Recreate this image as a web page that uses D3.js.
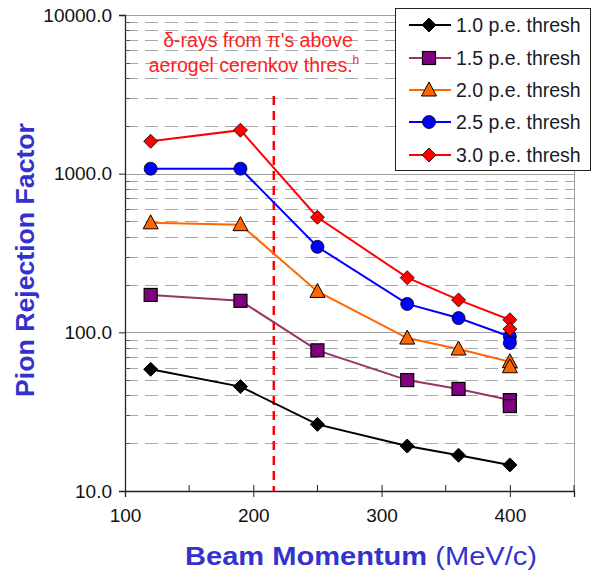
<!DOCTYPE html>
<html><head><meta charset="utf-8">
<script src="https://cdn.jsdelivr.net/npm/d3@7"></script>
<style>body{margin:0;background:#fff;} text{font-family:Arial,"Liberation Sans",sans-serif;}</style>
</head><body>
<svg id="c" width="595" height="573"></svg>
<script>
const momentum = [120, 190, 250, 320, 360, 400, 400];
const thresh10 = [58.5, 45.5, 26.3, 19.2, 16.8, 14.6];
const thresh15 = [172, 158, 77, 50, 44, 37.4, 34.3];
const thresh20 = [490, 477, 181, 92, 78.5, 65.3, 60.7];
const thresh25 = [1075, 1075, 346, 151, 123, 94, 85.7];
const thresh30 = [1600, 1880, 531, 221, 160, 120, 105];
const seriesNames = ["1.0 p.e. thresh","1.5 p.e. thresh","2.0 p.e. thresh","2.5 p.e. thresh","3.0 p.e. thresh"];
const xTicks = [100, 200, 300, 400];
const yTicks = [10, 100, 1000, 10000];
const cutoffMomentum = 216;

const series = [
 {name:seriesNames[0], vals:thresh10, line:"#000000", fill:"#000000", stroke:"#000000", shape:"diamond"},
 {name:seriesNames[1], vals:thresh15, line:"#993366", fill:"#800080", stroke:"#000000", shape:"square"},
 {name:seriesNames[2], vals:thresh20, line:"#FF6600", fill:"#FF6600", stroke:"#000000", shape:"triangle"},
 {name:seriesNames[3], vals:thresh25, line:"#0000FF", fill:"#0000FF", stroke:"#000000", shape:"circle"},
 {name:seriesNames[4], vals:thresh30, line:"#FF0000", fill:"#FF0000", stroke:"#000000", shape:"diamond2"}
];

const svg = d3.select("#c");
const L=125, R=574, T=15, B=491;
const x = d3.scaleLinear().domain([100,450]).range([L,R]);
const y = d3.scaleLog().domain([10,10000]).range([B,T]);

// gridlines
const minor=[];
for (let d=10; d<10000; d*=10) for (let k=2;k<=9;k++) minor.push(d*k);
svg.append("g").selectAll("line").data(minor).join("line")
 .attr("x1",L).attr("x2",R).attr("y1",d=>Math.round(y(d))+0.5).attr("y2",d=>Math.round(y(d))+0.5)
 .attr("stroke","#a8a8a8").attr("stroke-width",1).attr("stroke-dasharray","13,7");
svg.append("g").selectAll("line").data([100,1000,10000]).join("line")
 .attr("x1",L).attr("x2",R).attr("y1",d=>Math.round(y(d))+0.5).attr("y2",d=>Math.round(y(d))+0.5)
 .attr("stroke","#a0a0a0").attr("stroke-width",1);
svg.append("line").attr("x1",R+0.5).attr("x2",R+0.5).attr("y1",T).attr("y2",B).attr("stroke","#a0a0a0");

// axes
const yAxis = svg.append("g").attr("transform",`translate(${L},0)`)
 .call(d3.axisLeft(y).tickValues(yTicks).tickFormat(d3.format(".1f")).tickSize(6));
yAxis.selectAll("text").attr("font-size",19).attr("fill","#111").attr("dx","-4");
yAxis.select(".domain").attr("stroke","#222").attr("stroke-width",1.3);
yAxis.selectAll(".tick line").attr("stroke","#222");
svg.append("g").selectAll("line").data(minor).join("line")
 .attr("x1",L).attr("x2",L+5).attr("y1",d=>Math.round(y(d))+0.5).attr("y2",d=>Math.round(y(d))+0.5).attr("stroke","#555");

const xAxis = svg.append("g").attr("transform",`translate(0,${B})`)
 .call(d3.axisBottom(x).tickValues(xTicks).tickFormat(d3.format("d")).tickSize(6));
xAxis.selectAll("text").attr("font-size",19).attr("fill","#111").attr("y",31).attr("dy",0);
xAxis.select(".domain").attr("stroke","#222").attr("stroke-width",1.3);
xAxis.selectAll(".tick line").attr("stroke","#222").attr("y1",-6);
svg.append("g").selectAll("line").data([150,250,350,450]).join("line")
 .attr("x1",d=>x(d)).attr("x2",d=>x(d)).attr("y1",B-6).attr("y2",B).attr("stroke","#222");

// cutoff line
svg.append("line").attr("x1",x(cutoffMomentum)).attr("x2",x(cutoffMomentum))
 .attr("y1",96).attr("y2",B).attr("stroke","#FF0000").attr("stroke-width",2.5).attr("stroke-dasharray","9,6");

// annotation
const ann = svg.append("text").attr("text-anchor","middle").attr("fill","#FF2020").attr("font-size",19.5);
ann.append("tspan").attr("x",258).attr("y",47).text("δ-rays from π's above");
const ann2 = svg.append("text").attr("text-anchor","middle").attr("fill","#FF2020").attr("font-size",19.5);
ann2.append("tspan").attr("x",254).attr("y",72).text("aerogel cerenkov thres.");
ann2.append("tspan").attr("font-size",12).attr("dy",-8).text("h");

function marker(g, shape, fill, stroke){
  if(shape==="diamond"){ g.append("path").attr("d","M0,-7L7,0L0,7L-7,0Z").attr("fill",fill).attr("stroke",stroke); }
  else if(shape==="diamond2"){ g.append("path").attr("d","M0,-7L7,0L0,7L-7,0Z").attr("fill",fill).attr("stroke",stroke).attr("stroke-width",0.8); }
  else if(shape==="square"){ g.append("rect").attr("x",-6.5).attr("y",-6.5).attr("width",13).attr("height",13).attr("fill",fill).attr("stroke",stroke).attr("stroke-width",1.2); }
  else if(shape==="triangle"){ g.append("path").attr("d","M0,-8L7.5,6L-7.5,6Z").attr("fill",fill).attr("stroke",stroke).attr("stroke-width",1); }
  else { g.append("circle").attr("r",6.5).attr("fill",fill).attr("stroke",stroke).attr("stroke-width",0.8); }
}

const line = d3.line().x(d=>x(d[0])).y(d=>y(d[1]));
series.forEach(s=>{
  const pts = s.vals.map((v,i)=>[momentum[i],v]);
  svg.append("path").datum(pts).attr("d",line).attr("fill","none").attr("stroke",s.line).attr("stroke-width",2);
  pts.forEach(p=>{
    const g=svg.append("g").attr("transform",`translate(${x(p[0])},${y(p[1])})`);
    marker(g,s.shape,s.fill,s.stroke);
  });
});

// legend
const lg = svg.append("g");
lg.append("rect").attr("x",395.5).attr("y",8.5).attr("width",195).attr("height",162).attr("fill","#fff").attr("stroke","#222").attr("stroke-width",1);
const rowY=[25,58,90,122,155];
series.forEach((s,i)=>{
  lg.append("line").attr("x1",409).attr("x2",451).attr("y1",rowY[i]).attr("y2",rowY[i]).attr("stroke",s.line).attr("stroke-width",2);
  const g=lg.append("g").attr("transform",`translate(429,${rowY[i]})`);
  marker(g,s.shape,s.fill,s.stroke);
  lg.append("text").attr("x",456).attr("y",rowY[i]+7).attr("font-size",19.5).attr("fill","#1a1a2a").text(s.name);
});

// axis titles
svg.append("text").attr("transform","translate(34,260) rotate(-90)").attr("text-anchor","middle")
 .attr("font-size",26).attr("font-weight","bold").attr("fill","#3333CC")
 .attr("textLength",274).attr("lengthAdjust","spacingAndGlyphs").text("Pion Rejection Factor");
const xt = svg.append("text").attr("x",361).attr("y",565).attr("text-anchor","middle").attr("font-size",26).attr("fill","#3333CC")
 .attr("textLength",352).attr("lengthAdjust","spacingAndGlyphs");
xt.append("tspan").attr("font-weight","bold").text("Beam Momentum ");
xt.append("tspan").text("(MeV/c)");
</script>
</body></html>
